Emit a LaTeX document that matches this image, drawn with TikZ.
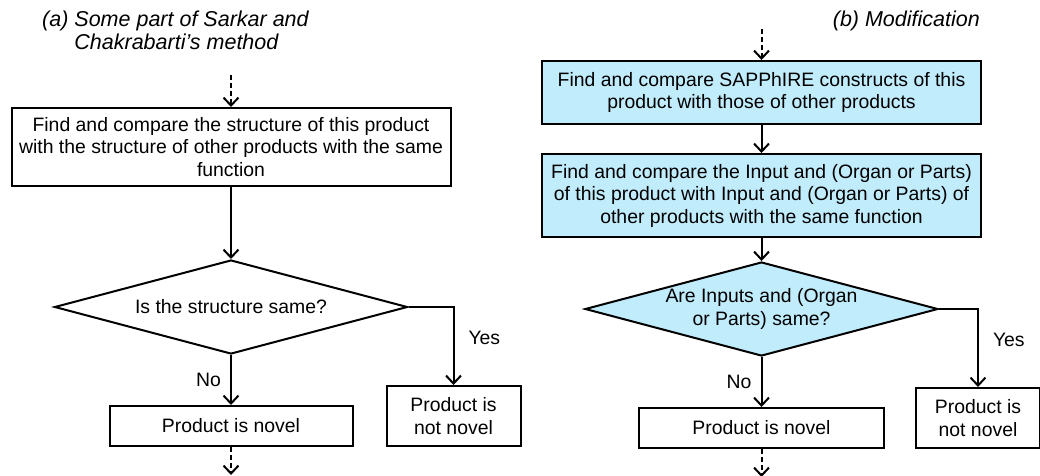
\documentclass[tikz,border=0pt]{standalone}
\usepackage{fontspec}
\setmainfont{Liberation Sans}
\usetikzlibrary{shapes.geometric,arrows.meta,positioning}
\definecolor{boxblue}{RGB}{193,236,252}

\begin{document}
\begin{tikzpicture}[
                    x=1pt, y=1pt,
                    every node/.style={font=\fontsize{19.4}{22.5}\selectfont},
                    stepbox/.style={draw, line width=2pt, align=center, inner xsep=2pt, inner ysep=0pt},
                    decision/.style={draw, diamond, aspect=3.75, line width=2pt, align=center, inner sep=0pt, minimum width=353pt, minimum height=94pt},
                    flow/.style={line width=2pt, -{Straight Barb[length=8pt, width=15pt, line width=2pt]}},
                    flowdash/.style={flow, dash pattern=on 5pt off 3pt},
                    answer/.style={inner sep=1pt},
                    title/.style={font=\fontsize{21.5}{23}\selectfont\itshape, inner sep=0pt}
                ]
                    \useasboundingbox (0,0) rectangle (1040,-475);

                    % (a) original steps
                    \node[title, anchor=north west, align=left] (ttla) at (42,-11) {(a) Some part of Sarkar and\\\hphantom{(a) }Chakrabarti's method};
                    \node[stepbox, minimum width=439pt, minimum height=78pt] (a1) at (231,-147) {Find and compare the structure of this product\\with the structure of other products with the same\\function};
                    \node[decision, below=72pt of a1] (a2) {Is the structure same?};
                    \node[stepbox, minimum width=243pt, minimum height=40pt, below=50pt of a2] (a3) {Product is novel};
                    \node[stepbox, minimum width=134pt, minimum height=60pt, above right=0pt and 32pt of a3.south east] (a4) {Product is\\not novel};
                    \coordinate[above=32pt of a1] (a0);
                    \coordinate[below=28pt of a3] (a5);

                    \draw[flowdash] (a0) -- (a1);
                    \draw[flow] (a1) -- (a2);
                    \draw[flow] (a2) -- node[answer, left=8pt] {No} (a3);
                    \draw[flow] (a2.east) -| node[answer, pos=0.7, right=13pt] {Yes} (a4.north);
                    \draw[flowdash] (a3) -- (a5);

                    % (b) modified steps
                    \node[title, anchor=north east] (ttlb) at (980,-11) {(b) Modification};
                    \node[stepbox, fill=boxblue, minimum width=439pt, minimum height=63pt] (b1) at (761.5,-92.5) {Find and compare SAPPhIRE constructs of this\\product with those of other products};
                    \node[stepbox, fill=boxblue, minimum width=439pt, minimum height=83pt, below=28pt of b1] (b2) {Find and compare the Input and (Organ or Parts)\\of this product with Input and (Organ or Parts) of\\other products with the same function};
                    \node[decision, fill=boxblue, below=23pt of b2] (b3) {Are Inputs and (Organ\\or Parts) same?};
                    \node[stepbox, minimum width=245pt, minimum height=40pt, below=50pt of b3] (b4) {Product is novel};
                    \node[stepbox, minimum width=124pt, minimum height=60pt, above right=0pt and 30pt of b4.south east] (b5) {Product is\\not novel};
                    \coordinate[above=31pt of b1] (b0);
                    \coordinate[below=28pt of b4] (b6);

                    \draw[flowdash] (b0) -- (b1);
                    \draw[flow] (b1) -- (b2);
                    \draw[flow] (b2) -- (b3);
                    \draw[flow] (b3) -- node[answer, left=8pt] {No} (b4);
                    \draw[flow] (b3.east) -| node[answer, pos=0.7, right=13pt] {Yes} (b5.north);
                    \draw[flowdash] (b4) -- (b6);
                \end{tikzpicture}
\end{document}
